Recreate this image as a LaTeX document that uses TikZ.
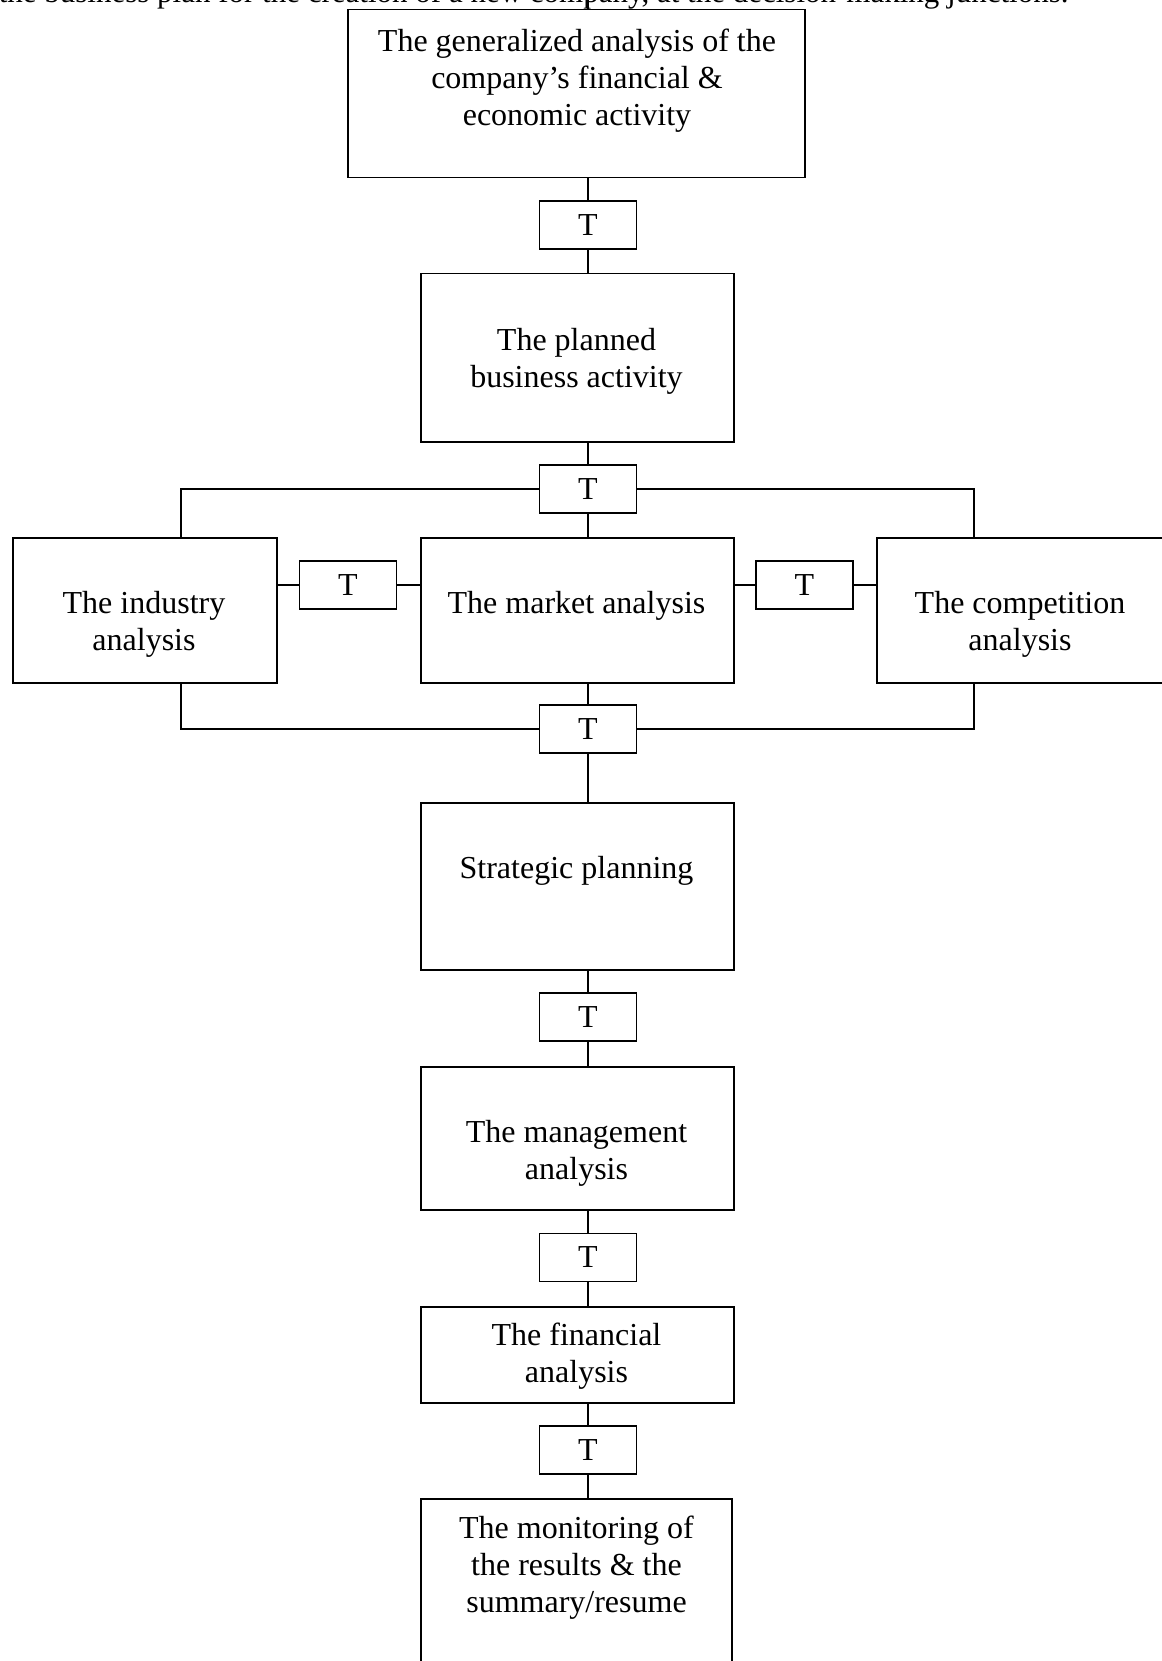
\documentclass[tikz,border=0pt]{standalone}
\usepackage{fontspec}
\setmainfont{Liberation Serif}
\begin{document}
\begin{tikzpicture}[x=1pt,y=-1pt,
  line width=1.5pt,
  box/.style={draw, rectangle, anchor=north west, inner sep=0pt},
  tbox/.style={draw, rectangle, minimum width=97pt, minimum height=48pt, inner sep=0pt,
    font=\fontsize{32}{37}\selectfont},
  txt/.style={font=\fontsize{32}{37}\selectfont, align=center, inner sep=0pt, anchor=north},
  link/.style={draw, line width=1.5pt}]
\useasboundingbox (0,0) rectangle (1161,1661);

% caption line (cut off at the top, as in the reference)
\node[font=\fontsize{31}{37}\selectfont, inner sep=0pt, anchor=base west] (cap) at (-2,3)
  {the business plan for the creation of a new company, at the decision-making junctions.};
\coordinate (c0) at (588,-20);

% main boxes
\node[box, minimum width=457pt, minimum height=168pt] (b1) at (347,9) {};
\node[box, minimum width=313pt, minimum height=168pt] (b2) at (420,273) {};
\node[box, minimum width=264pt, minimum height=145pt] (bi) at (12,537) {};
\node[box, minimum width=313pt, minimum height=145pt] (bm) at (420,537) {};
\node[box, minimum width=288pt, minimum height=145pt] (bc) at (876,537) {};
\node[box, minimum width=313pt, minimum height=167pt] (bs) at (420,802) {};
\node[box, minimum width=313pt, minimum height=143pt] (bma) at (420,1066) {};
\node[box, minimum width=313pt, minimum height=96pt] (bf) at (420,1306) {};
\node[box, minimum width=311pt, minimum height=200pt] (bmo) at (420,1498) {};

% texts
\node[txt] (x1) at (577,28) {The generalized analysis of the\\company’s financial \&\\economic activity};
\node[txt] (x2) at (576.5,328) {The planned\\business activity};
\node[txt] (xi) at (144,591) {The industry\\analysis};
\node[txt] (xm) at (576.5,591) {The market analysis};
\node[txt] (xc) at (1020,591) {The competition\\analysis};
\node[txt] (xs) at (576.5,856) {Strategic planning};
\node[txt] (xma) at (576.5,1120) {The management\\analysis};
\node[txt] (xf) at (576.5,1322) {The financial\\analysis};
\node[txt] (xmo) at (576.5,1515) {The monitoring of\\the results \& the\\summary/resume};

% T boxes
\node[tbox] (t1) at (588,225) {T};
\node[tbox] (t2) at (588,489) {T};
\node[tbox] (tl) at (348,585) {T};
\node[tbox] (tr) at (804.5,585) {T};
\node[tbox] (t3) at (588,729) {T};
\node[tbox] (t4) at (588,1017) {T};
\node[tbox] (t5) at (588,1257.5) {T};
\node[tbox] (t6) at (588,1450) {T};

% connectors
\draw[link] (c0) -- (c0 |- b1.north);
\draw[link] (b1.south -| t1.north) -- (t1.north);
\draw[link] (t1.south) -- (t1.south |- b2.north);
\draw[link] (b2.south -| t2.north) -- (t2.north);
\draw[link] (t2.south) -- (t2.south |- bm.north);
\draw[link] (t2.west) -| ([xshift=36pt]bi.north);
\draw[link] (t2.east) -| ([xshift=-47pt]bc.north);
\draw[link] (tl.west) -- (tl.west -| bi.east);
\draw[link] (tl.east) -- (tl.east -| bm.west);
\draw[link] (tr.west) -- (tr.west -| bm.east);
\draw[link] (tr.east) -- (tr.east -| bc.west);
\draw[link] (bm.south -| t3.north) -- (t3.north);
\draw[link] (t3.west) -| ([xshift=36pt]bi.south);
\draw[link] (t3.east) -| ([xshift=-47pt]bc.south);
\draw[link] (t3.south) -- (t3.south |- bs.north);
\draw[link] (bs.south -| t4.north) -- (t4.north);
\draw[link] (t4.south) -- (t4.south |- bma.north);
\draw[link] (bma.south -| t5.north) -- (t5.north);
\draw[link] (t5.south) -- (t5.south |- bf.north);
\draw[link] (bf.south -| t6.north) -- (t6.north);
\draw[link] (t6.south) -- (t6.south |- bmo.north);
\end{tikzpicture}
\end{document}
